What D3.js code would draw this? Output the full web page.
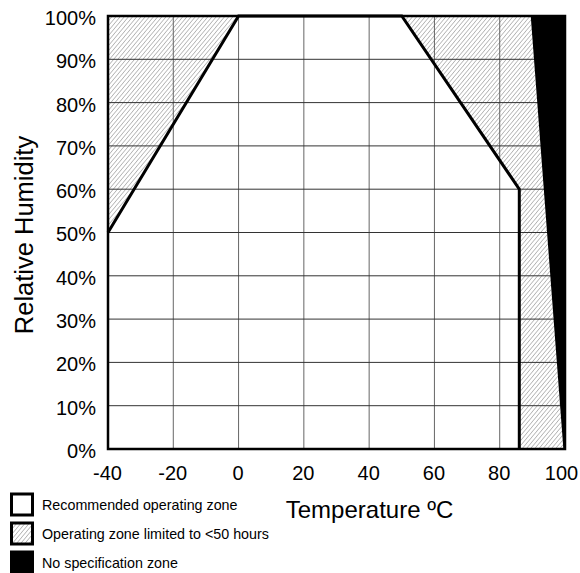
<!DOCTYPE html>
<html><head><meta charset="utf-8">
<script src="https://cdn.jsdelivr.net/npm/d3@7"></script>
<style>body{margin:0;background:#fff;overflow:hidden}svg{display:block;font-family:"Liberation Sans",Arial,sans-serif}</style>
</head><body>
<svg id="c" width="580" height="573"></svg>
<script>
const xTicks = [-40,-20,0,20,40,60,80,100];
const yTicks = [0,10,20,30,40,50,60,70,80,90,100];
// zone polygons: [temperature, humidity %]
const recommendedBoundary = [[-40,50],[0,100],[50,100],[86,60],[86,0]];
const hatchedLeft = [[-40,100],[0,100],[-40,50]];
const hatchedRight = [[50,100],[89.5,100],[99.5,0],[86,0],[86,60]];
const noSpecZone = [[89.5,100],[100,100],[100,0],[99.5,0]];
const legendItems = ["Recommended operating zone","Operating zone limited to <50 hours","No specification zone"];

const svg = d3.select("#c");
const x = d3.scaleLinear().domain([-40,100]).range([108,565]);
const y = d3.scaleLinear().domain([0,100]).range([449,16]);

const defs = svg.append("defs");
const pat = defs.append("pattern").attr("id","hatch").attr("patternUnits","userSpaceOnUse")
  .attr("width",3.2).attr("height",3.2).attr("patternTransform","rotate(40)");
pat.append("line").attr("x1",0).attr("y1",0).attr("x2",0).attr("y2",3.2)
  .attr("stroke","#666").attr("stroke-width",0.8);

const line = d3.line().x(d=>x(d[0])).y(d=>y(d[1]));
svg.append("path").attr("d",line(hatchedLeft)+"Z").attr("fill","url(#hatch)");
svg.append("path").attr("d",line(hatchedRight)+"Z").attr("fill","url(#hatch)");

// grid
svg.append("g").selectAll("line").data(xTicks.slice(1,-1)).join("line")
  .attr("x1",d=>x(d)).attr("x2",d=>x(d)).attr("y1",y(0)).attr("y2",y(100))
  .attr("stroke","#666").attr("stroke-width",1);
svg.append("g").selectAll("line").data(yTicks.slice(1,-1)).join("line")
  .attr("x1",x(-40)).attr("x2",x(100)).attr("y1",d=>y(d)).attr("y2",d=>y(d))
  .attr("stroke","#333").attr("stroke-width",1);

svg.append("path").attr("d",line(noSpecZone)+"Z").attr("fill","#000");

svg.append("path").attr("d",line(recommendedBoundary)).attr("fill","none")
  .attr("stroke","#000").attr("stroke-width",3).attr("stroke-linejoin","miter");

svg.append("rect").attr("x",x(-40)).attr("y",y(100)).attr("width",x(100)-x(-40)).attr("height",y(0)-y(100))
  .attr("fill","none").attr("stroke","#000").attr("stroke-width",2.5);

// axes
const xAxis = d3.axisBottom(x).tickValues(xTicks).tickSize(0).tickPadding(0).tickFormat(d=>String(d));
const gx = svg.append("g").attr("transform",`translate(0,${y(0)})`).call(xAxis);
gx.select(".domain").remove();
gx.selectAll("text").attr("font-size",20).attr("fill","#000").attr("dy",null).attr("y",31)
  .attr("x",d=>d===100?-4:-1)
  .attr("font-family","Liberation Sans, Arial, sans-serif");

const yAxis = d3.axisLeft(y).tickValues(yTicks).tickSize(0).tickPadding(0).tickFormat(d=>d+"%");
const gy = svg.append("g").attr("transform",`translate(96,0)`).call(yAxis);
gy.select(".domain").remove();
gy.selectAll("text").attr("font-size",20).attr("fill","#000").attr("dy","0.42em").attr("x",0)
  .attr("font-family","Liberation Sans, Arial, sans-serif");

svg.append("text").attr("transform","translate(33,235) rotate(-90)").attr("text-anchor","middle")
  .attr("font-size",25.5).text("Relative Humidity");
svg.append("text").attr("x",369.5).attr("y",518).attr("text-anchor","middle")
  .attr("font-size",24).text("Temperature ºC");

// legend
const lg = svg.append("g");
const fills = ["#fff","url(#hatch)","#000"];
legendItems.forEach((t,i)=>{
  const yy = 494 + i*29;
  lg.append("rect").attr("x",11.5).attr("y",yy).attr("width",21).attr("height",21)
    .attr("fill",fills[i]).attr("stroke","#000").attr("stroke-width",3);
  lg.append("text").attr("x",42).attr("y",yy+16).attr("font-size",14.3).text(t);
});
</script>
</body></html>
